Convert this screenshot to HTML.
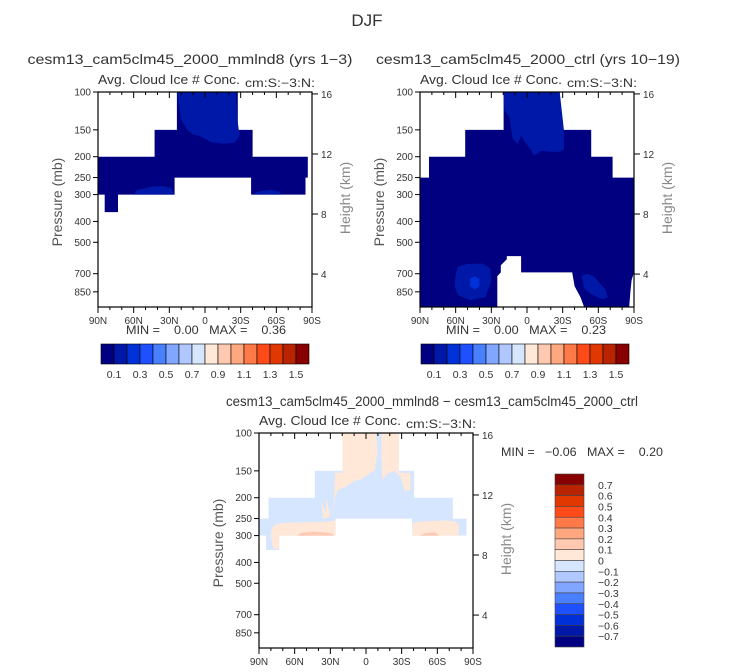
<!DOCTYPE html>
<html><head><meta charset="utf-8"><style>
html,body{margin:0;padding:0;background:#fff;}
svg{display:block;font-family:"Liberation Sans",sans-serif;}
.pre{white-space:pre;}
</style></head><body>
<svg id="chart" width="733" height="672" viewBox="0 0 733 672" xmlns="http://www.w3.org/2000/svg">
<text x="367" y="26" font-size="17" text-anchor="middle" fill="#333">DJF</text>
</svg>
<script>
const NS="http://www.w3.org/2000/svg";
const svg=document.getElementById('chart');
// ---- data ----
const palette=["#000080","#0018a8","#0030d8","#1f50ff","#4a7fff","#80a6ff","#b0c8ff","#d6e6ff","#ffe8d8","#ffc8b0","#ffa880","#ff7a48","#ff4a1a","#e03800","#b82400","#880000"];
const hLabels=["0.1","0.3","0.5","0.7","0.9","1.1","1.3","1.5"];
const vLabels=["0.7","0.6","0.5","0.4","0.3","0.2","0.1","0","\u22120.1","\u22120.2","\u22120.3","\u22120.4","\u22120.5","\u22120.6","\u22120.7"];
const pTicks=[100,150,200,250,300,400,500,700,850];
const latTicks=[90,60,30,0,-30,-60,-90];
const latLabels=["90N","60N","30N","0","30S","60S","90S"];
const kmTicks=[4,8,12,16];
// panel 1 regions [lat,p]
const p1Navy=[[23.6,100],[-27.6,100],[-27.6,150],[-40,150],[-40,200],[-86.5,200],[-86.5,250],[-84.5,250],[-84.5,300],[-38.8,300],[-38.8,250],[25.6,250],[25.6,300],[73.2,300],[73.2,362],[84.4,362],[84.4,300],[90,300],[90,200],[42.4,200],[42.4,150],[23.6,150]];
const p1Top=[[23.6,100],[-26,100],[-27,130],[-29,160],[-25,172],[-15,174],[-5,171],[0,165],[5,160],[10,158],[15,150],[20,135],[22.5,110]];
const p1BlobL=[[60,300],[57,285],[45,276],[35,274],[28,280],[26,300]];
const p1BlobR=[[-40,300],[-45,290],[-55,285],[-62,290],[-64,300]];
// panel 2 regions
const p2Navy=[[19.7,100],[-27.5,100],[-27.5,150],[-54,150],[-54,200],[-72,200],[-72,250],[-90,250],[-90,690],[-88,750],[-87,850],[-86,1000],[-48,1000],[-45,900],[-40,800],[-38,690],[5,690],[5,580],[17,580],[17,600],[22,640],[22,690],[25,720],[25,1000],[90,1000],[90,250],[82.4,250],[82.4,200],[52,200],[52,150],[19.7,150]];
const p2Top=[[19.7,100],[-27.5,100],[-31,150],[-31,185],[-27,190],[-20,190],[-12,188],[-8,195],[-6,198],[-3,185],[2,170],[5,160],[8,175],[12,165],[15,130],[19,122]];
const p2BlobL=[[60,700],[58,650],[50,630],[37,628],[31,660],[30,760],[35,900],[48,930],[58,880],[61,800]];
const p2BlobLin=[[48,740],[44,720],[40,740],[40,800],[44,830],[48,800]];
const p2BlobR=[[-46,720],[-50,700],[-56,720],[-66,830],[-68,900],[-64,920],[-55,880],[-48,820]];
// panel 3 (difference) regions
const p3Blue=[[19.7,150],[19.7,100],[-27.6,100],[-27.6,150],[-40.5,150],[-40.5,200],[-73,200],[-73,250],[-84.5,250],[-84.5,300],[-38.8,300],[-38.8,250],[25.6,250],[25.6,300],[73,300],[73,350],[84,350],[84,300],[90,300],[90,250],[82,250],[82,200],[43,200],[43,150]];
const p3PeachA=[[19.7,100],[-8.3,100],[-9.7,120],[-7.5,148],[-1.9,156],[5.1,165],[10.7,168],[16.3,177],[23.3,184],[26.1,197],[27.5,244],[26.1,153],[19.7,153]];
const p3PeachB=[[-13,100],[-27.6,100],[-27.6,153],[-37.4,153],[-37.4,184],[-33,187],[-29,160],[-24,150],[-18,155],[-14,165],[-13,130]];
const p3PeachC=[[78,345],[80,300],[79,275],[75,265],[68,262],[50,260],[30,258],[25.6,255],[25.6,300],[73,300],[73,345]];
const p3DarkC=[[58,300],[55,292],[45,288],[35,290],[28,295],[27,300]];
const p3PeachD=[[-39,300],[-39,262],[-45,258],[-55,257],[-65,255],[-75,258],[-78,268],[-78,300]];
const p3DarkD=[[-45,300],[-50,292],[-58,290],[-62,300]];
const p3Spike1=[[36,250],[38,205],[34,235],[33,200],[30,245]];

// ---- helpers ----
function el(tag,attrs,parent){const e=document.createElementNS(NS,tag);for(const k in attrs)e.setAttribute(k,attrs[k]);(parent||svg).appendChild(e);return e;}
const W=214,H=215;
function X(ox,lat){return ox+(90-lat)/180*W;}
function Y(oy,p){return oy+H*Math.log10(p/100);}
function kmToP(z){return 1337*Math.exp(-z/6.22);}
function poly(ox,oy,pts,color,name){
  const e=el('polygon',{points:pts.map(q=>X(ox,q[0]).toFixed(1)+','+Y(oy,q[1]).toFixed(1)).join(' '),fill:color});
  
  
}
function txt(x,y,s,size,opts){const t=el('text',Object.assign({x:x,y:y,'font-size':size,fill:'#333'},opts||{}));t.textContent=s;return t;}

function axes(ox,oy,prefix){
  const g=el('g',{});
  
  
  el('rect',{x:ox,y:oy,width:W,height:H,fill:'none',stroke:'#000','stroke-width':1.2},g);
  pTicks.forEach(p=>{const y=Y(oy,p);el('line',{x1:ox-5,x2:ox,y1:y,y2:y,stroke:'#000'},g);
    const t=txt(ox-7,y+3.5,String(p),10,{'text-anchor':'end'});});
  for(let lat=90;lat>=-90;lat-=10){const x=X(ox,lat);const major=lat%30===0;
    el('line',{x1:x,x2:x,y1:oy+H,y2:oy+H+(major?6:3),stroke:'#000'},g);
    el('line',{x1:x,x2:x,y1:oy,y2:oy+(major?6:3),stroke:'#000'},g);}
  latTicks.forEach((lat,i)=>{const t=txt(X(ox,lat),oy+H+17,latLabels[i],10,{'text-anchor':'middle'});});
  kmTicks.forEach(z=>{const y=Y(oy,kmToP(z));el('line',{x1:ox+W,x2:ox+W+6,y1:y,y2:y,stroke:'#000'},g);
    const t=txt(ox+W+9,y+4,String(z),10);});
  let t=txt(0,0,'Pressure (mb)',14,{transform:`translate(${ox-36},${oy+110}) rotate(-90)`,'text-anchor':'middle',fill:'#555'});
  
  t=txt(0,0,'Height (km)',14,{transform:`translate(${ox+W+38},${oy+106}) rotate(-90)`,'text-anchor':'middle',fill:'#888'});
  
  t=txt(ox,oy-8,'Avg. Cloud Ice # Conc.',13,{textLength:142,lengthAdjust:'spacingAndGlyphs'});
  
  t=txt(ox+147,oy-5,'cm:S:\u22123:N:',11.5,{textLength:70,lengthAdjust:'spacingAndGlyphs'});
  
}
function hbar(x0,y0,w,h,name){
  const g=el('g',{});
  const bw=w/palette.length;
  palette.forEach((c,i)=>{const r=el('rect',{x:x0+i*bw,y:y0,width:bw,height:h,fill:c,stroke:'#000','stroke-width':0.6},g);
    });
  hLabels.forEach((s,i)=>{const t=txt(x0+(2*i+1)*bw,y0+h+14,s,10.5,{'text-anchor':'middle'});});
}
function vbar(x0,y0,w,h,name){
  const g=el('g',{});
  const bh=h/palette.length;
  palette.slice().reverse().forEach((c,i)=>{const r=el('rect',{x:x0,y:y0+i*bh,width:w,height:bh,fill:c,stroke:'#444','stroke-width':0.6},g);
    });
  vLabels.forEach((s,i)=>{const t=txt(x0+w+14,y0+(i+1)*bh+4,s,10.5,{'text-anchor':'start'});});
}

// ---- panel 1 ----
let ox=98,oy=92;
poly(ox,oy,p1Navy,palette[0],'region-navy');
poly(ox,oy,p1Top,palette[1],'region-upper-contour');
poly(ox,oy,p1BlobL,palette[1],'region-blob-north');
poly(ox,oy,p1BlobR,palette[1],'region-blob-south');
axes(ox,oy,'panel1');
let t=txt(190,64,'cesm13_cam5clm45_2000_mmlnd8 (yrs 1\u22123)',14,{'text-anchor':'middle',textLength:325,lengthAdjust:'spacingAndGlyphs'});

t=txt(126,334,'MIN =    0.00   MAX =    0.36',12,{'class':'pre',textLength:160,lengthAdjust:'spacingAndGlyphs'});

hbar(101,344,208,20,'panel1-colorbar');

// ---- panel 2 ----
ox=420;oy=92;
poly(ox,oy,p2Navy,palette[0],'region-navy');
poly(ox,oy,p2Top,palette[1],'region-upper-contour');
poly(ox,oy,p2BlobL,palette[1],'region-blob-north');
poly(ox,oy,p2BlobLin,palette[2],'region-blob-north-core');
poly(ox,oy,p2BlobR,palette[1],'region-blob-south');
axes(ox,oy,'panel2');
t=txt(528,64,'cesm13_cam5clm45_2000_ctrl (yrs 10\u221219)',14,{'text-anchor':'middle',textLength:304,lengthAdjust:'spacingAndGlyphs'});

t=txt(446,334,'MIN =    0.00   MAX =    0.23',12,{'class':'pre',textLength:160,lengthAdjust:'spacingAndGlyphs'});

hbar(421,344,208,20,'panel2-colorbar');

// ---- panel 3 ----
ox=259;oy=433;
poly(ox,oy,p3Blue,palette[7],'region-negative');
poly(ox,oy,p3PeachA,palette[8],'region-positive-upper-north');
poly(ox,oy,p3PeachB,palette[8],'region-positive-upper-south');
poly(ox,oy,p3PeachC,palette[8],'region-positive-lower-north');
poly(ox,oy,p3DarkC,palette[9],'region-positive-core-north');
poly(ox,oy,p3PeachD,palette[8],'region-positive-lower-south');
poly(ox,oy,p3DarkD,palette[9],'region-positive-core-south');
poly(ox,oy,p3Spike1,palette[8],'region-positive-spike');
axes(ox,oy,'panel3');
t=txt(432,406,'cesm13_cam5clm45_2000_mmlnd8 \u2212 cesm13_cam5clm45_2000_ctrl',14,{'text-anchor':'middle',textLength:412,lengthAdjust:'spacingAndGlyphs'});

t=txt(501,456,'MIN =   \u22120.06   MAX =    0.20',12,{'class':'pre',textLength:162,lengthAdjust:'spacingAndGlyphs'});

vbar(555,474,29,173,'panel3-colorbar');
</script>
</body></html>
